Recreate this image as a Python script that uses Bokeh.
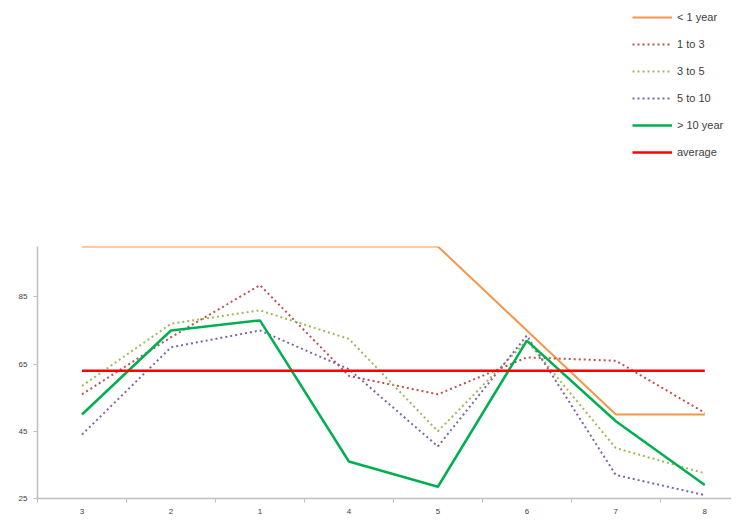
from bokeh.plotting import figure
from bokeh.models import Range1d, FixedTicker, Legend, LegendItem, ColumnDataSource
from bokeh.layouts import column
from bokeh.embed import file_html
from bokeh.resources import INLINE

# ---- data ----
periods = ["3", "2", "1", "4", "5", "6", "7", "8"]
xs = [1, 2, 3, 4, 5, 6, 7, 8]
lt1_year = [100, 100, 100, 100, 100, 75, 50, 50]
y1_to_3 = [56, 73, 88.5, 61.5, 56, 67, 66, 50.5]
y3_to_5 = [58.5, 77, 81, 72.5, 45, 72, 40, 32.5]
y5_to_10 = [44, 70, 75, 63.5, 40.5, 73.5, 32, 26]
gt10_year = [50, 75, 78, 36, 28.5, 72, 48, 29]
average = [63, 63, 63, 63, 63, 63, 63, 63]
y_ticks = [25, 45, 65, 85]

series = [
    ("< 1 year", lt1_year, "#F79646", 2, None),
    ("1 to 3", y1_to_3, "#C0504D", 2, "2 3"),
    ("3 to 5", y3_to_5, "#9BBB59", 2, "2 3"),
    ("5 to 10", y5_to_10, "#8064A2", 2, "2 3"),
    ("> 10 year", gt10_year, "#00B050", 2.5, None),
    ("average", average, "#FF0000", 2.5, None),
]

W = 731
TOP_H = 240
MAIN_H = 516 - TOP_H
LEFT = 37

# ---- legend-only figure on top ----
top = figure(width=W, height=TOP_H, output_backend="svg", toolbar_location=None,
             x_range=Range1d(0, 1), y_range=Range1d(0, 1),
             min_border=0, min_border_left=0, min_border_right=0,
             min_border_top=0, min_border_bottom=0)
top.axis.visible = False
top.grid.visible = False
top.outline_line_color = None

# ---- main chart ----
p = figure(width=W, height=MAIN_H, output_backend="svg", toolbar_location=None,
           x_range=Range1d(0.5, 8.3), y_range=Range1d(25, 100),
           min_border_left=LEFT, min_border_right=0, min_border_top=6,
           min_border_bottom=18)
p.outline_line_color = None
p.xgrid.visible = False
p.ygrid.visible = False

items = []
for name, vals, color, w, dash in series:
    src = ColumnDataSource(dict(x=xs, y=vals))
    kw = dict(line_color=color, line_width=w)
    if dash:
        kw["line_dash"] = dash
    p.line("x", "y", source=src, **kw)
    # proxy renderer for the legend figure: same series, drawn outside its visible range
    r = top.line("x", "y", source=src, **kw)
    items.append(LegendItem(label=name, renderers=[r]))

# axes
ax = p.xaxis[0]
ax.ticker = FixedTicker(ticks=xs, minor_ticks=[0.5 + i for i in range(9)])
ax.major_label_overrides = {x: lab for x, lab in zip(xs, periods)}
ax.major_tick_out = 0
ax.major_tick_in = 0
ax.minor_tick_out = 4
ax.minor_tick_in = 0
ax.minor_tick_line_color = "#BFBFBF"
ax.axis_line_color = "#BFBFBF"
ax.axis_line_width = 1.5
ax.major_label_text_font = "Liberation Sans"
ax.major_label_text_font_size = "8px"
ax.major_label_text_color = "#404040"
ax.major_label_standoff = 6

ay = p.yaxis[0]
ay.ticker = FixedTicker(ticks=y_ticks)
ay.major_tick_out = 4
ay.major_tick_in = 0
ay.minor_tick_out = 0
ay.minor_tick_in = 0
ay.major_tick_line_color = "#BFBFBF"
ay.axis_line_color = "#BFBFBF"
ay.axis_line_width = 1.5
ay.major_label_text_font = "Liberation Sans"
ay.major_label_text_font_size = "8px"
ay.major_label_text_color = "#404040"
ay.major_label_standoff = 6

legend = Legend(items=items, location=(632 - LEFT, TOP_H - 7 - 155), orientation="vertical",
                glyph_width=40, glyph_height=20, label_height=20, spacing=7,
                label_standoff=5, padding=0, margin=0,
                border_line_color=None, background_fill_alpha=0,
                label_text_font="Liberation Sans", label_text_font_size="11px",
                label_text_color="#404040")
top.add_layout(legend, "center")

layout = column(top, p, spacing=0)
open("out.html", "w").write(file_html(layout, INLINE))
